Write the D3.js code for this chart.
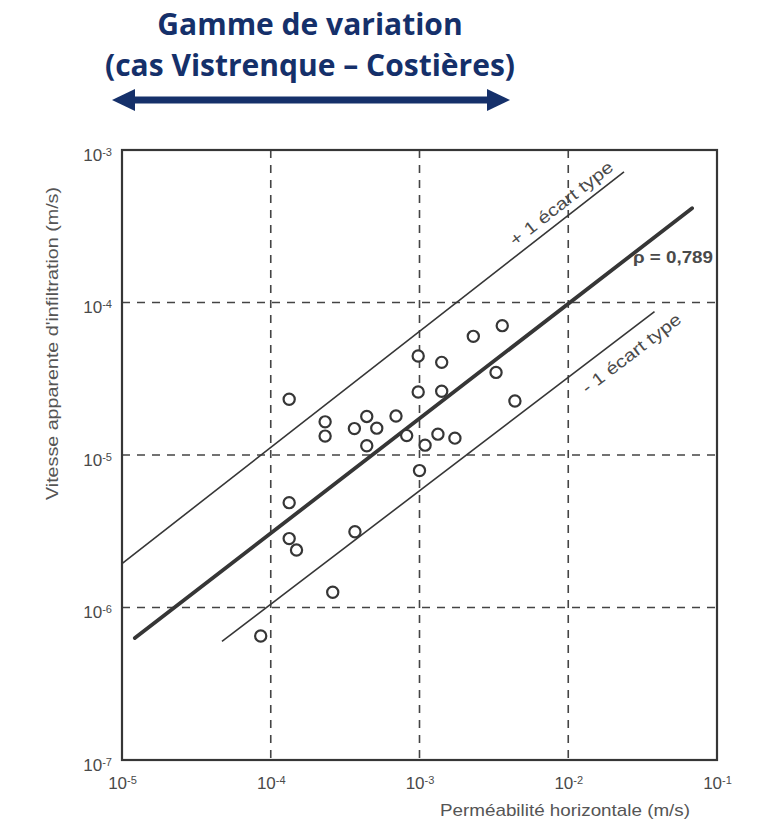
<!DOCTYPE html>
<html><head><meta charset="utf-8">
<script src="https://cdn.jsdelivr.net/npm/d3@7"></script>
<style>body{margin:0;background:#fff}svg{display:block}</style>
</head><body>
<svg id="c" width="783" height="830"></svg>
<script>
// ---- data ----
const xTickExps = [-5, -4, -3, -2, -1];
const yTickExps = [-7, -6, -5, -4, -3];
const gridX = [1e-4, 1e-3, 1e-2];
const gridY = [1e-6, 1e-5, 1e-4];
const permeability = [1.33e-4, 2.32e-4, 2.32e-4, 3.65e-4, 4.42e-4, 5.16e-4, 4.42e-4, 6.95e-4, 8.2e-4, 9.8e-4, 9.8e-4, 1.41e-3, 1.41e-3, 1.09e-3, 1.33e-3, 1.73e-3, 1.0e-3, 2.3e-3, 3.6e-3, 3.27e-3, 4.38e-3, 1.33e-4, 1.33e-4, 1.49e-4, 3.68e-4, 2.61e-4, 8.56e-5];
const velocity = [2.32e-5, 1.65e-5, 1.33e-5, 1.49e-5, 1.79e-5, 1.50e-5, 1.15e-5, 1.80e-5, 1.34e-5, 4.46e-5, 2.59e-5, 4.05e-5, 2.62e-5, 1.16e-5, 1.37e-5, 1.29e-5, 7.9e-6, 6.0e-5, 7.05e-5, 3.48e-5, 2.26e-5, 4.87e-6, 2.83e-6, 2.38e-6, 3.14e-6, 1.26e-6, 6.5e-7];
const meanLine = [[1.22e-5, 6.3e-7], [6.8e-2, 4.15e-4]];
const upperLine = [[1e-5, 1.94e-6], [2.37e-2, 7.2e-4]];
const lowerLine = [[4.7e-5, 6.0e-7], [3.8e-2, 8.7e-5]];
const titleLines = ["Gamme de variation", "(cas Vistrenque – Costières)"];
const rangeArrow = [112, 510]; // pixel span of the annotation arrow
const xTitle = "Perméabilité horizontale (m/s)";
const yTitle = "Vitesse apparente d'infiltration (m/s)";
const rhoLabel = "ρ = 0,789";

// ---- drawing ----
const svg = d3.select("#c");
const x = d3.scaleLog().domain([1e-5, 1e-1]).range([122, 717]);
const y = d3.scaleLog().domain([1e-7, 1e-3]).range([760, 150]);
const ink = "#363636";
const font = "'Liberation Sans', Arial, sans-serif";
const navy = "#15306a";
const txt = "#4a4a4a";

// title
svg.append("g").selectAll("text").data(titleLines).join("text")
  .attr("x", 310).attr("y", (d, i) => 35 + i * 41)
  .attr("text-anchor", "middle")
  .attr("font-family", "'Open Sans', sans-serif").attr("font-weight", 700)
  .attr("font-size", 30).attr("fill", navy).text(d => d);

// arrow
const ay = 100;
svg.append("line").attr("x1", rangeArrow[0] + 18).attr("x2", rangeArrow[1] - 18)
  .attr("y1", ay).attr("y2", ay).attr("stroke", navy).attr("stroke-width", 7);
svg.append("path").attr("fill", navy)
  .attr("d", `M${rangeArrow[0]},${ay} L${rangeArrow[0] + 23},${ay - 11} L${rangeArrow[0] + 23},${ay + 11} Z`);
svg.append("path").attr("fill", navy)
  .attr("d", `M${rangeArrow[1]},${ay} L${rangeArrow[1] - 23},${ay - 11} L${rangeArrow[1] - 23},${ay + 11} Z`);

// grid
const g = svg.append("g");
g.selectAll(".gx").data(gridX).join("line")
  .attr("x1", d => x(d)).attr("x2", d => x(d)).attr("y1", y(1e-3)).attr("y2", y(1e-7))
  .attr("stroke", "#444").attr("stroke-width", 1.6).attr("stroke-dasharray", "8,7");
g.selectAll(".gy").data(gridY).join("line")
  .attr("y1", d => y(d)).attr("y2", d => y(d)).attr("x1", x(1e-5)).attr("x2", x(1e-1))
  .attr("stroke", "#444").attr("stroke-width", 1.6).attr("stroke-dasharray", "8,7");

// axes (positions via d3 axes; labels with superscripts)
const supLabel = (sel, e) => {
  sel.text(null);
  sel.append("tspan").text("10");
  sel.append("tspan").attr("dy", "-0.45em").attr("font-size", "0.65em").text(String(e));
};
const xAxis = svg.append("g").attr("transform", `translate(0,${y(1e-7)})`)
  .call(d3.axisBottom(x).tickValues(xTickExps.map(e => Math.pow(10, e))).tickSize(0).tickPadding(17));
xAxis.select(".domain").remove();
xAxis.selectAll(".tick text").each(function(d, i) {
  d3.select(this).attr("font-family", font).attr("font-size", 17).attr("fill", txt);
  supLabel(d3.select(this), xTickExps[i]);
});
const yAxis = svg.append("g").attr("transform", `translate(${x(1e-5)},0)`)
  .call(d3.axisLeft(y).tickValues(yTickExps.map(e => Math.pow(10, e))).tickSize(0).tickPadding(10));
yAxis.select(".domain").remove();
yAxis.selectAll(".tick text").each(function(d, i) {
  d3.select(this).attr("font-family", font).attr("font-size", 17).attr("fill", txt).attr("dy", "0.6em");
  supLabel(d3.select(this), yTickExps[i]);
});

// frame
svg.append("rect").attr("x", x(1e-5)).attr("y", y(1e-3))
  .attr("width", x(1e-1) - x(1e-5)).attr("height", y(1e-7) - y(1e-3))
  .attr("fill", "none").attr("stroke", ink).attr("stroke-width", 2.2);

// lines
const lg = d3.line().x(d => x(d[0])).y(d => y(d[1]));
svg.append("path").attr("d", lg(upperLine)).attr("stroke", ink).attr("stroke-width", 1.6).attr("fill", "none");
svg.append("path").attr("d", lg(lowerLine)).attr("stroke", ink).attr("stroke-width", 1.6).attr("fill", "none");
svg.append("path").attr("d", lg(meanLine)).attr("stroke", ink).attr("stroke-width", 3.8).attr("fill", "none").attr("stroke-linecap", "round");

// points
svg.append("g").selectAll("circle").data(permeability).join("circle")
  .attr("cx", d => x(d)).attr("cy", (d, i) => y(velocity[i])).attr("r", 5.6)
  .attr("fill", "#fff").attr("stroke", ink).attr("stroke-width", 2.2);

// line annotations
const ang = a => Math.atan2(y(a[1][1]) - y(a[0][1]), x(a[1][0]) - x(a[0][0])) * 180 / Math.PI;
svg.append("text").attr("font-family", font).attr("font-size", 17).attr("fill", txt)
  .attr("text-anchor", "middle").attr("textLength", 126).attr("lengthAdjust", "spacingAndGlyphs")
  .attr("transform", `translate(565,208) rotate(${ang(upperLine)})`).text("+ 1 écart type");
svg.append("text").attr("font-family", font).attr("font-size", 17).attr("fill", txt)
  .attr("text-anchor", "middle").attr("textLength", 120).attr("lengthAdjust", "spacingAndGlyphs")
  .attr("transform", `translate(635,358) rotate(${ang(lowerLine)})`).text("- 1 écart type");
svg.append("text").attr("font-family", font).attr("font-size", 16).attr("font-weight", 700).attr("fill", txt)
  .attr("textLength", 80).attr("lengthAdjust", "spacingAndGlyphs")
  .attr("x", 633).attr("y", 263).text(rhoLabel);

// axis titles
svg.append("text").attr("font-family", font).attr("font-size", 17).attr("fill", "#555")
  .attr("textLength", 250).attr("lengthAdjust", "spacingAndGlyphs")
  .attr("x", 440).attr("y", 816).text(xTitle);
svg.append("text").attr("font-family", font).attr("font-size", 17).attr("fill", "#555")
  .attr("textLength", 313).attr("lengthAdjust", "spacingAndGlyphs")
  .attr("transform", "translate(58,500) rotate(-90)").text(yTitle);
</script>
</body></html>
